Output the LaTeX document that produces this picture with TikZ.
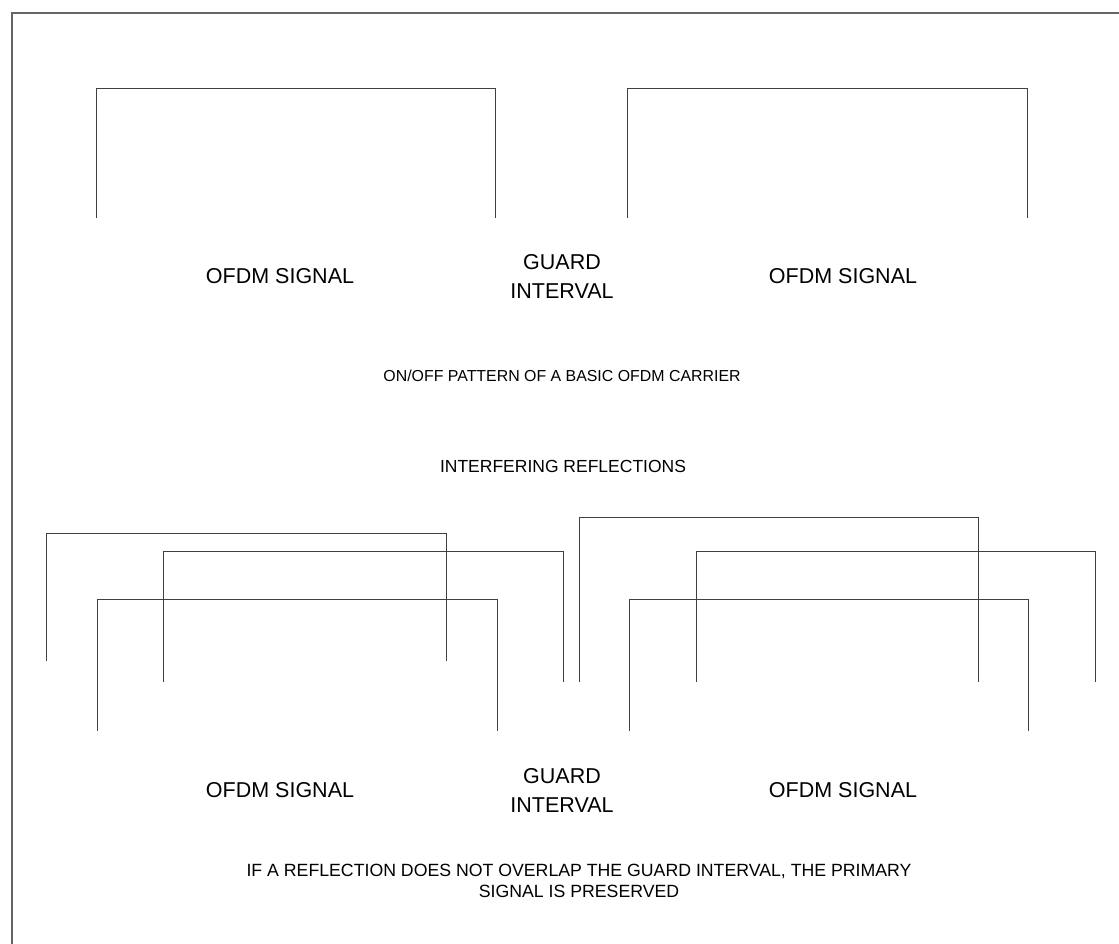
\documentclass[tikz,border=0pt]{standalone}
\usepackage{fontspec}
\setmainfont{Liberation Sans}
\begin{document}
\begin{tikzpicture}[x=1pt,y=-1pt,
  pulse/.style={draw=black!75,line width=0.9pt,line join=miter},
  frame/.style={draw=black!60,line width=1.2pt},
  biglabel/.style={font=\fontsize{21.5}{29}\selectfont,align=center,inner sep=0pt},
  midlabel/.style={font=\fontsize{17.7}{21}\selectfont,align=center,inner sep=0pt},
  irlabel/.style={font=\fontsize{17.5}{21}\selectfont,align=center,inner sep=0pt},
  smalllabel/.style={font=\fontsize{15.9}{20}\selectfont,align=center,inner sep=0pt}]
\useasboundingbox (0,0) rectangle (1119,944);
\fill[white] (0,0) rectangle (1119,944);
% frame (top and left edges)
\coordinate (fb) at (12,944);
\coordinate (fc) at (12,13);
\coordinate (fr) at (1119,13);
\draw[frame] (fb) -- (fc) -- (fr);
% top row pulses
\draw[pulse] (96,218) -- (96,88) -- (495,88) -- (495,218);
\draw[pulse] (627,218) -- (627,88) -- (1027,88) -- (1027,218);
\node[biglabel] (s1) at (280,276) {OFDM SIGNAL};
\node[biglabel] (g1) at (562,276) {GUARD\\INTERVAL};
\node[biglabel] (s2) at (843,276) {OFDM SIGNAL};
\node[smalllabel] (cap1) at (562,376) {ON/OFF PATTERN OF A BASIC OFDM CARRIER};
\node[irlabel] (ir) at (563,466) {INTERFERING REFLECTIONS};
% bottom row: reflections and primary
\draw[pulse] (46,661) -- (46,533) -- (446,533) -- (446,661);
\draw[pulse] (163,682) -- (163,551) -- (563,551) -- (563,682);
\draw[pulse] (97,731) -- (97,599) -- (497,599) -- (497,731);
\draw[pulse] (579,682) -- (579,517) -- (978,517) -- (978,682);
\draw[pulse] (696,682) -- (696,551) -- (1095,551) -- (1095,682);
\draw[pulse] (629,731) -- (629,599) -- (1028,599) -- (1028,731);
\node[biglabel] (s3) at (280,790) {OFDM SIGNAL};
\node[biglabel] (g2) at (562,790) {GUARD\\INTERVAL};
\node[biglabel] (s4) at (843,790) {OFDM SIGNAL};
\node[midlabel] (cap2) at (579,881) {IF A REFLECTION DOES NOT OVERLAP THE GUARD INTERVAL, THE PRIMARY\\SIGNAL IS PRESERVED};
\end{tikzpicture}
\end{document}
